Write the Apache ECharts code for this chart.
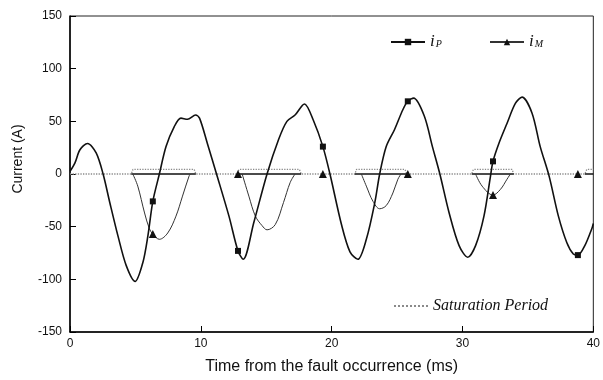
<!DOCTYPE html>
<html>
<head>
<meta charset="utf-8">
<script src="https://cdn.jsdelivr.net/npm/echarts@6/dist/echarts.min.js"></script>
<style>
  html, body { margin: 0; padding: 0; background: #fff; }
  #chart { width: 603px; height: 380px; }
</style>
</head>
<body>
<div id="chart"></div>
<script>
// primary current i_P (ms, A)
var ipTime = [0, 0.38, 0.76, 1.34, 2.0, 2.53, 3.04, 3.67, 4.3, 4.98, 5.57, 5.95, 6.33, 6.83, 7.34, 7.97, 8.48, 8.98, 9.6, 9.9, 10.5, 11.2,
  12.15, 12.84, 13.24, 14.05, 15.06, 15.95, 16.58, 17.2, 17.92, 18.6, 19.33, 19.87, 20.75, 21.4, 22.0, 22.65, 23.3, 23.67,
  24.17, 24.8, 25.44, 25.82, 26.27, 27.08, 27.7, 28.27, 28.98, 29.74, 30.4, 31.0, 31.64, 32.14, 32.33, 32.78, 33.4, 34.04, 34.55,
  35.31, 35.94, 36.62, 37.33, 37.97, 38.47, 38.82, 39.35, 39.91, 40];
var ipVal = [2.5, 10.6, 23, 29, 20, 0, -27, -59, -87, -102, -84, -59, -26, 0, 26, 45, 53, 52, 56, 53, 29, 0,
  -40, -73, -81, -46, 0, 33, 50, 56, 66.5, 51, 26, 0, -48, -74, -81, -62, -27, 0,
  26, 42, 61, 69, 72, 55, 26, 0, -37, -68, -79, -68, -40, -2, 12, 29, 48, 67, 73,
  58, 26, -2, -40, -65, -76, -77, -68, -51, -47];

// magnetizing current i_M ('-' = no line)
var imTime = [4.8, 5.18, 5.7, 6.07, 6.33, 6.83, 7.47, 8.1, 8.6, 9.1, 9.2, 9.2,
  12.84, 12.84,
  13.16, 13.67, 14.17, 14.68, 15.06, 15.69, 16.32, 16.83, 17.2, 17.2,
  19.33, 19.33,
  22.27, 22.65, 23.16, 23.67, 24.17, 24.68, 25.06, 25.3, 25.3,
  25.82, 25.82,
  31.0, 31.5, 32.33, 32.9, 33.4, 33.66, 33.66,
  38.82];
var imVal = [0, -11.5, -37, -52, -57, -62, -56, -40, -21, -2, 0, '-',
  0, '-',
  0, -21, -40, -49, -53, -48, -27, -8, 0, '-',
  0, '-',
  0, -11.5, -26, -33, -30, -18, -5, 0, '-',
  0, '-',
  0, -11.5, -20, -14.6, -5, 0, '-',
  0];

// marker positions (ms)
var markTime = [6.33, 12.84, 19.33, 25.82, 32.33, 38.82];

// saturation period outline
var satTime = [0, 4.68, 4.81, 9.49, 9.62, 12.78, 12.91, 17.54, 17.67, 21.77, 21.9, 25.61, 25.74,
  30.7, 30.83, 33.79, 33.92, 39.35, 39.5, 40];
var satVal = [0, 0, 4.3, 4.3, 0, 0, 4.3, 4.3, 0, 0, 4.3, 4.3, 0, 0, 4.3, 4.3, 0, 0, 4.3, 4.3];
var satStart = [4.68, 12.78, 21.77, 30.7, 39.35];
var satEnd = [9.62, 17.67, 25.74, 33.92, 40];

var yTicks = [-150, -100, -50, 0, 50, 100, 150];

function withMarks(times, vals) {
  var out = [];
  for (var i = 0; i < times.length; i++) {
    var item = { value: [times[i], vals[i]] };
    if (markTime.indexOf(times[i]) < 0 || vals[i] === '-') item.symbol = 'none';
    out.push(item);
  }
  return out;
}

var baseData = [];
for (var k = 0; k < satStart.length; k++) {
  baseData.push([satStart[k], 0], [satEnd[k], 0], [satEnd[k], '-']);
}

var satData = satTime.map(function (t, i) { return [t, satVal[i]]; });

var myChart = echarts.init(document.getElementById('chart'));

var subRich = {
  i: { fontSize: 17, lineHeight: 18, verticalAlign: 'top', fontFamily: 'Liberation Serif', fontStyle: 'italic', color: '#111' },
  s: { fontSize: 10, lineHeight: 18, padding: [6, 0, 0, 1], verticalAlign: 'top', fontFamily: 'Liberation Serif', fontStyle: 'italic', color: '#111' }
};

var option = {
  animation: false,
  backgroundColor: '#fff',
  grid: {
    left: 70, right: 6, top: 16, bottom: 47,
    show: true, borderColor: '#222', borderWidth: 1
  },
  legend: [
    {
      data: ['iP'], left: 385, top: 28, itemWidth: 34, itemHeight: 8,
      formatter: function () { return '{i|i}{s|P}'; },
      textStyle: { rich: subRich }
    },
    {
      data: ['iM'], left: 484, top: 28, itemWidth: 34, itemHeight: 8,
      formatter: function () { return '{i|i}{s|M}'; },
      textStyle: { rich: subRich }
    },
    {
      data: ['Saturation Period'], left: 388, top: 293, itemWidth: 34, itemHeight: 8,
      itemStyle: { opacity: 0 },
      textStyle: { fontSize: 16, fontFamily: 'Liberation Serif', fontStyle: 'italic', color: '#111' }
    }
  ],
  xAxis: {
    type: 'value', min: 0, max: 40, interval: 10,
    name: 'Time from the fault occurrence (ms)',
    nameLocation: 'middle', nameGap: 27,
    nameTextStyle: { fontSize: 16, fontFamily: 'Liberation Sans', color: '#111' },
    axisLine: { show: true, onZero: false, lineStyle: { color: '#000', width: 1.5 } },
    axisTick: { show: true, inside: true, length: 6, lineStyle: { color: '#000' } },
    axisLabel: { fontSize: 12, fontFamily: 'Liberation Sans', color: '#111', margin: 6 },
    splitLine: { show: false }
  },
  yAxis: {
    type: 'value', min: yTicks[0], max: yTicks[yTicks.length - 1], interval: 50,
    name: 'Current (A)',
    nameLocation: 'middle', nameGap: 45,
    nameTextStyle: { fontSize: 14, fontFamily: 'Liberation Sans', color: '#111', padding: [0, 0, 0, 30] },
    axisLine: { show: true, onZero: false, lineStyle: { color: '#000', width: 1.5 } },
    axisTick: { show: true, inside: true, length: 6, lineStyle: { color: '#000' } },
    axisLabel: { fontSize: 12, fontFamily: 'Liberation Sans', color: '#111', margin: 8 },
    splitLine: { show: false }
  },
  series: [
    {
      name: 'Saturation Period',
      type: 'line',
      data: satData,
      symbol: 'none',
      lineStyle: { color: '#8a8a8a', width: 1.3, type: 'dotted' },
      itemStyle: { color: '#8a8a8a' },
      z: 1
    },
    {
      name: 'base',
      type: 'line',
      data: baseData,
      symbol: 'none',
      lineStyle: { color: '#111', width: 1.4 },
      z: 2
    },
    {
      name: 'iM',
      type: 'line',
      data: withMarks(imTime, imVal),
      smooth: 0.35,
      symbol: 'triangle',
      symbolSize: 8,
      showSymbol: true,
      lineStyle: { color: '#333', width: 1 },
      itemStyle: { color: '#111' },
      z: 3
    },
    {
      name: 'iP',
      type: 'line',
      data: withMarks(ipTime, ipVal),
      smooth: 0.3,
      symbol: 'rect',
      symbolSize: 6,
      showSymbol: true,
      lineStyle: { color: '#111', width: 1.6 },
      itemStyle: { color: '#111' },
      z: 4
    }
  ]
};

myChart.setOption(option);
window.addEventListener('resize', function () { myChart.resize(); });
</script>
</body>
</html>
